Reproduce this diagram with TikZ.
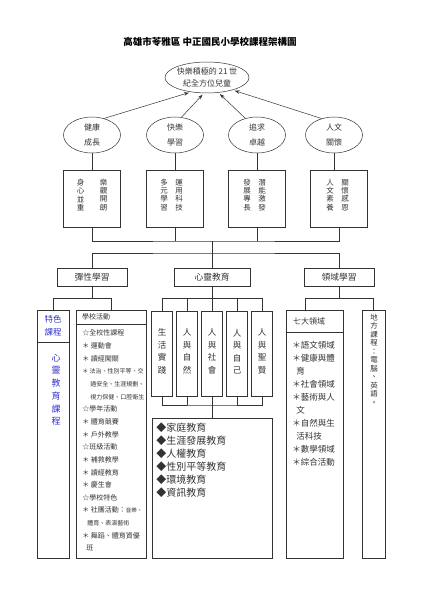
\documentclass[tikz,border=0pt]{standalone}
\usepackage{fontspec}
\setmainfont{Noto Sans CJK TC}
\usetikzlibrary{shapes.geometric,arrows.meta}
\definecolor{r51g51b204}{rgb}{0.200000,0.200000,0.800000}%
\tikzset{
  aimoval/.style={ellipse,draw,minimum width=57pt,minimum height=36pt,inner sep=0pt,align=center,font=\fontsize{8}{15}\selectfont},
  valuebox/.style={rectangle,draw,minimum width=57pt,minimum height=57pt,inner sep=0pt},
  strandbox/.style={rectangle,draw,minimum height=18pt,inner sep=0pt,font=\fontsize{8.75}{10}\selectfont},
  colbox/.style={rectangle,draw,inner sep=0pt},
  coltext/.style={inner sep=0pt,align=center},
  listtext/.style={inner sep=0pt,align=left,anchor=north west},
  goalarrow/.style={-{Stealth[length=5pt,width=3.5pt]},shorten >=2pt},
}
\begin{document}
\begin{tikzpicture}[x=1pt,y=-1pt,line width=0.5pt,color=black!80]
\useasboundingbox (0,0) rectangle (420,593);
% Drawing title
\node [font=\bfseries\fontsize{9.5}{11}\selectfont,color=black] (title) at (210,42) {高雄市苓雅區 中正國民小學校課程架構圖};%

% Drawing goal and aims
\node [ellipse,draw,minimum width=84pt,minimum height=31pt,inner xsep=-5pt,inner ysep=0pt,align=center,font=\fontsize{8}{11.5}\selectfont] (goal) at (207,77.5) {快樂積極的 21 世\\紀全方位兒童};%
\node [aimoval] (aimA) at (92,135) {健康\\成長};%
\node [aimoval] (aimB) at (175,135) {快樂\\學習};%
\node [aimoval] (aimC) at (257,135) {追求\\卓越};%
\node [aimoval] (aimD) at (334,135) {人文\\關懷};%
\draw [goalarrow] (aimA.54) -- (goal.222);%
\draw [goalarrow] (aimB.70) -- (goal.259);%
\draw [goalarrow] (aimC.125) -- (goal.307);%
\draw [goalarrow] (aimD.127) -- (goal.334);%

% Drawing values
\node [valuebox] (valA) at (92,198.5) {};%
\node [valuebox] (valB) at (175,198.5) {};%
\node [valuebox] (valC) at (257,198.5) {};%
\node [valuebox] (valD) at (339,198.5) {};%
\begin{scope}[every node/.style={coltext,font=\fontsize{7.5}{8.2}\selectfont}]
\node (valAl) at (80.5,195) {身\\心\\並\\重};%
\node (valAr) at (103.5,195) {樂\\觀\\開\\朗};%
\node (valBl) at (164,195) {多\\元\\學\\習};%
\node (valBr) at (179,195) {運\\用\\科\\技};%
\node (valCl) at (247,195) {發\\展\\專\\長};%
\node (valCr) at (262,195) {潛\\能\\激\\發};%
\node (valDl) at (330,195) {人\\文\\素\\養};%
\node (valDr) at (345,195) {關\\懷\\感\\恩};%
\end{scope}
\draw (aimA) -- (valA);%
\draw (aimB) -- (valB);%
\draw (aimC) -- (valC);%
\draw (aimD.south) -- (aimD.south |- valD.north);%

% Drawing spine
\coordinate (spineA) at (212,241);
\draw (valA.south) |- (spineA) -| (valD.south);%
\draw (valB.south) -- (valB.south |- spineA);%
\draw (valC.south) -- (valC.south |- spineA);%
\draw (spineA) -- ++(0,12) coordinate (spineB);%

% Drawing strands
\node [strandbox,minimum width=70pt] (flex) at (92,277) {彈性學習};%
\node [strandbox,minimum width=76pt] (heart) at (212,277) {心靈教育};%
\node [strandbox,minimum width=70pt] (field) at (339,277) {領域學習};%
\draw (flex.north) |- (spineB) -| (field.north);%
\draw (spineB) -- (heart.north);%

% Drawing flexible learning
\node [colbox,minimum width=32pt,minimum height=32pt,align=center,font=\fontsize{8.5}{13}\selectfont,text=r51g51b204] (teseHead) at (53,326) {特色\\課程};%
\node [colbox,minimum width=32pt,minimum height=216pt] (teseBody) at (53,450) {};%
\node [coltext,font=\fontsize{9}{12.7}\selectfont,text=r51g51b204] (teseText) at (56,389.75) {心\\靈\\教\\育\\課\\程};%
\node [colbox,minimum height=14pt,text width=58pt,inner xsep=6pt,align=left,font=\fontsize{7}{8}\selectfont] (schoolHead) at (111,317) {學校活動};%
\node [colbox,minimum width=70pt,minimum height=234pt] (schoolBody) at (111,441) {};%
\node [listtext,font=\fontsize{7}{12.65}\selectfont] (schoolText) at (82,329.7) {%
☆全校性課程\\
＊ 運動會\\
＊ 讀經闖關\\
{\fontsize{6}{6}\selectfont ＊ 法治、性別平等、交}\\
\hspace*{8pt}{\fontsize{6}{6}\selectfont 通安全、生涯規劃、}\\
\hspace*{8pt}{\fontsize{6}{6}\selectfont 視力保健、口腔衛生}\\
☆學年活動\\
＊ 體育競賽\\
＊ 戶外教學\\
☆班級活動\\
＊ 補救教學\\
＊ 讀經教育\\
＊ 慶生會\\
☆學校特色\\
＊ 社團活動：{\fontsize{5.5}{6}\selectfont 音樂、}\\
\hspace*{5pt}{\fontsize{6}{6}\selectfont 體育、表演藝術}\\
＊ 舞蹈、體育資優\\
\hspace*{4pt}班};%
\draw (flex.south) -- ++(0,12) coordinate (flexjoin);%
\draw (teseHead.north) |- (flexjoin) -| (schoolHead.north);%

% Drawing heart education
\node [colbox,minimum width=21pt,minimum height=85pt] (lifeA) at (162,353.5) {};%
\node [colbox,minimum width=21pt,minimum height=85pt] (lifeB) at (187,353.5) {};%
\node [colbox,minimum width=21pt,minimum height=85pt] (lifeC) at (212,353.5) {};%
\node [colbox,minimum width=21pt,minimum height=85pt] (lifeD) at (237,353.5) {};%
\node [colbox,minimum width=21pt,minimum height=85pt] (lifeE) at (262,353.5) {};%
\begin{scope}[every node/.style={coltext,font=\fontsize{8.5}{12.5}\selectfont}]
\node (lifeAt) at (162,351.5) {生\\活\\實\\踐};%
\node (lifeBt) at (187,351.5) {人\\與\\自\\然};%
\node (lifeCt) at (212,351.5) {人\\與\\社\\會};%
\node (lifeDt) at (237,351.5) {人\\與\\自\\己};%
\node (lifeEt) at (262,351.5) {人\\與\\聖\\賢};%
\end{scope}
\draw (heart.south) -- ++(0,12) coordinate (heartjoin);%
\draw (lifeA.north) |- (heartjoin) -| (lifeE.north);%
\foreach \n in {lifeB,lifeC,lifeD}
  \draw (\n.north) -- (\n.north |- heartjoin);%
\coordinate (lifejoin) at (212,405);
\node [colbox,minimum width=120pt,minimum height=140pt] (issues) at (212,488) {};%
\draw (lifeA.south) |- (lifejoin) -| (lifeE.south);%
\foreach \n in {lifeB,lifeD}
  \draw (\n.south) -- (\n.south |- lifejoin);%
\draw (lifeC.south) -- (issues.north);%
\node [listtext,font=\fontsize{10}{13}\selectfont] (issuesText) at (156,422.3) {%
◆家庭教育\\
◆生涯發展教育\\
◆人權教育\\
◆性別平等教育\\
◆環境教育\\
◆資訊教育};%

% Drawing field learning
\node [colbox,minimum height=22pt,text width=43pt,inner xsep=7pt,align=left,font=\fontsize{8}{9}\selectfont] (qiHead) at (314.5,321) {七大領域};%
\node [colbox,minimum width=57pt,minimum height=226pt] (qiBody) at (314.5,445) {};%
\node [listtext,font=\fontsize{8.5}{13}\selectfont] (qiText) at (292,341) {%
＊語文領域\\
＊健康與體\\
\hspace*{4pt}育\\
＊社會領域\\
＊藝術與人\\
\hspace*{4pt}文\\
＊自然與生\\
\hspace*{4pt}活科技\\
＊數學領域\\
＊綜合活動};%
\node [colbox,minimum width=23pt,minimum height=248pt] (local) at (373.5,434) {};%
\node [coltext,font=\fontsize{7.5}{8.5}\selectfont] (localText) at (374,359.5) {地\\方\\課\\程\\：\\電\\腦\\、\\英\\語\\。};%
\draw (field.south) -- ++(0,12) coordinate (fieldjoin);%
\draw ([xshift=-9pt]qiHead.north) |- (fieldjoin) -| (local.north);%
\end{tikzpicture}
\end{document}
